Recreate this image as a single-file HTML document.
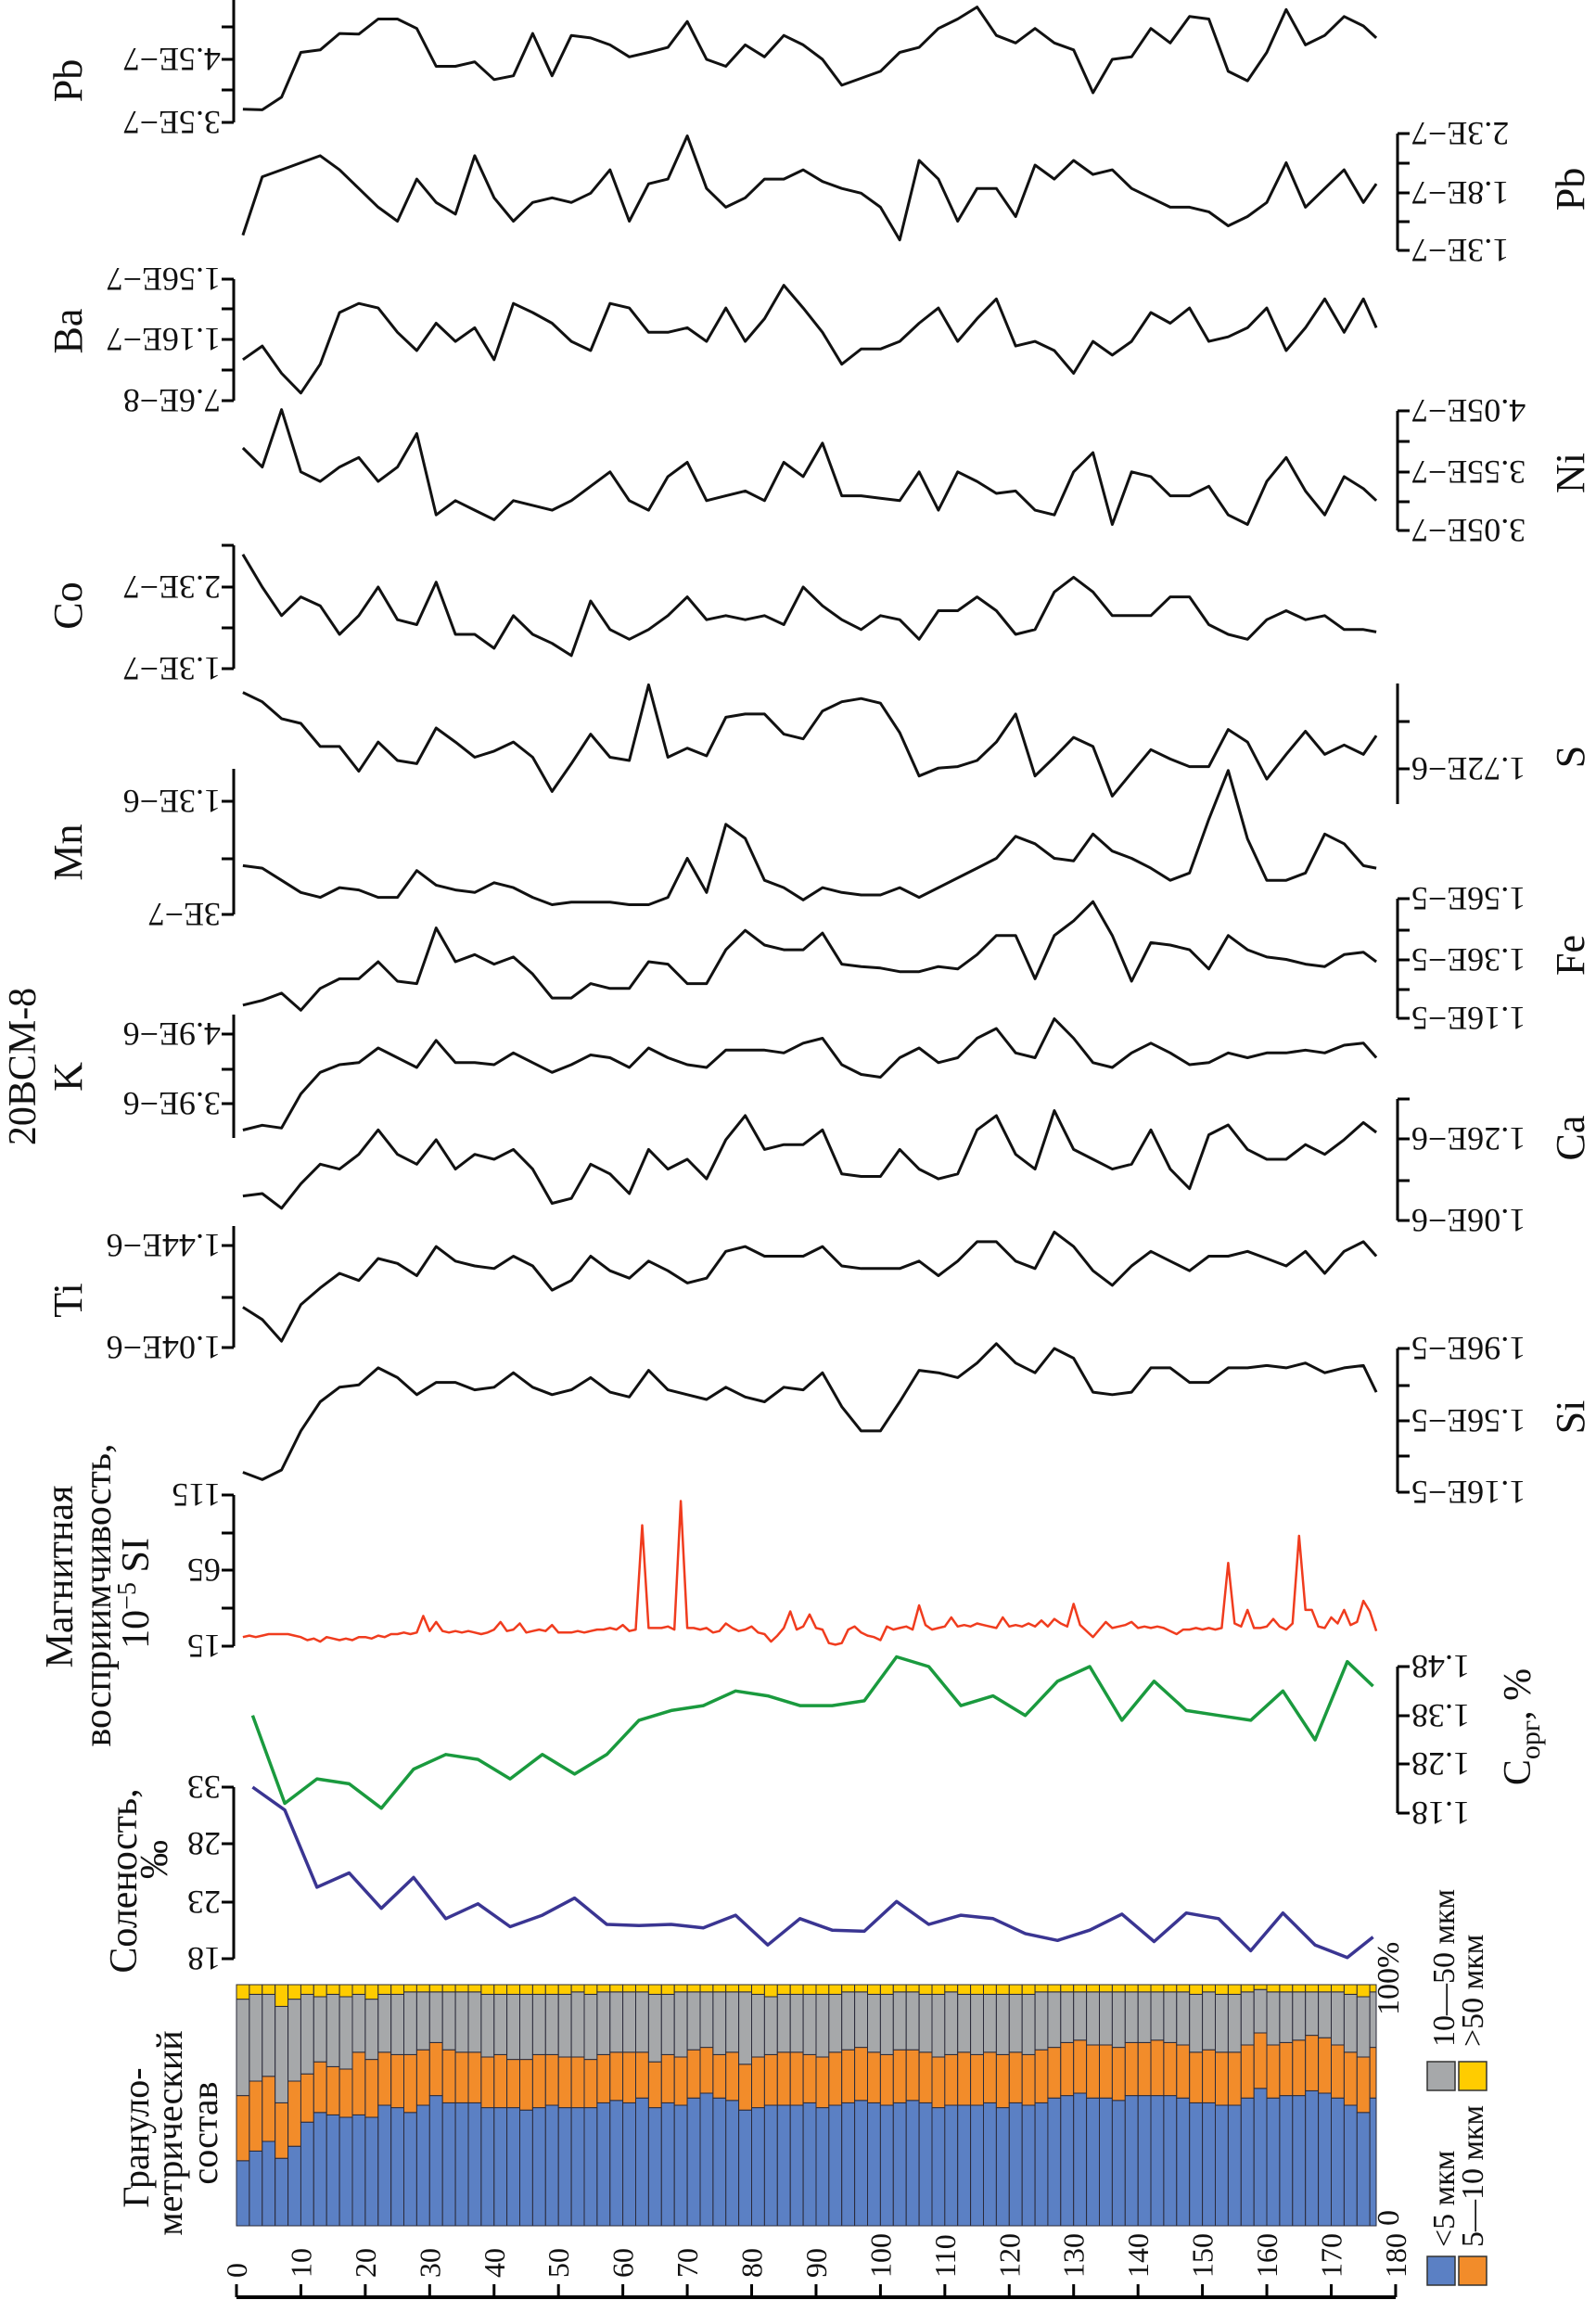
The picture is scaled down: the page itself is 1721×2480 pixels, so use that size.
<!DOCTYPE html>
<html><head><meta charset="utf-8">
<style>
html,body{margin:0;padding:0;background:#fff;}
svg{display:block;font-family:"Liberation Serif","DejaVu Serif",serif;}
</style></head>
<body>
<svg id="chart" xmlns="http://www.w3.org/2000/svg" width="1721" height="2480" viewBox="0 0 1721 2480">
<rect x="0" y="0" width="1721" height="2480" fill="#fff"/>
</svg>
<script>
// ---------- data ----------
const depths = [1,4,7,10,13,16,19,22,25,28,31,34,37,40,43,46,49,52,55,58,61,64,67,70,73,76,79,82,85,88,91,94,97,100,103,106,109,112,115,118,121,124,127,130,133,136,139,142,145,148,151,154,157,160,163,166,169,172,175,177];
const pbUpper = [3.71,3.70,3.90,4.61,4.65,4.91,4.90,5.14,5.14,4.99,4.39,4.39,4.46,4.18,4.24,4.91,4.24,4.88,4.84,4.73,4.54,4.61,4.69,5.10,4.50,4.39,4.73,4.54,4.88,4.73,4.50,4.09,4.20,4.31,4.61,4.69,4.99,5.14,5.33,4.88,4.76,4.99,4.76,4.65,3.97,4.50,4.54,4.99,4.76,5.18,5.14,4.31,4.16,4.61,5.29,4.73,4.88,5.18,5.03,4.84];
const pbLower = [1.43,1.93,1.99,2.05,2.11,1.99,1.83,1.67,1.55,1.91,1.71,1.61,2.11,1.75,1.55,1.71,1.75,1.71,1.79,1.99,1.55,1.87,1.91,2.28,1.83,1.67,1.75,1.91,1.91,1.99,1.89,1.83,1.79,1.67,1.39,2.07,1.91,1.55,1.83,1.83,1.59,2.03,1.91,2.07,1.95,1.99,1.83,1.75,1.67,1.67,1.63,1.51,1.59,1.71,2.05,1.67,1.83,1.99,1.71,1.87];
const ba = [1.03,1.12,0.94,0.81,1.00,1.34,1.40,1.37,1.21,1.09,1.27,1.15,1.24,1.03,1.40,1.34,1.27,1.15,1.09,1.40,1.37,1.21,1.21,1.24,1.15,1.37,1.15,1.30,1.52,1.37,1.21,1.00,1.10,1.10,1.15,1.27,1.37,1.15,1.30,1.43,1.12,1.15,1.09,0.94,1.15,1.06,1.15,1.34,1.27,1.37,1.15,1.18,1.24,1.37,1.09,1.24,1.43,1.21,1.43,1.24];
const ni = [3.74,3.58,4.06,3.54,3.46,3.58,3.66,3.46,3.58,3.86,3.18,3.30,3.22,3.14,3.30,3.26,3.22,3.30,3.42,3.54,3.30,3.22,3.50,3.62,3.30,3.34,3.38,3.30,3.62,3.50,3.78,3.34,3.34,3.32,3.30,3.54,3.22,3.54,3.46,3.36,3.38,3.22,3.18,3.54,3.70,3.10,3.54,3.50,3.34,3.34,3.42,3.18,3.10,3.46,3.66,3.38,3.18,3.50,3.40,3.30];
const co = [2.70,2.30,1.95,2.18,2.07,1.72,1.95,2.30,1.90,1.84,2.36,1.72,1.72,1.55,1.95,1.72,1.61,1.46,2.13,1.78,1.66,1.78,1.95,2.18,1.90,1.95,1.90,1.95,1.84,2.30,2.07,1.90,1.78,1.95,1.90,1.66,2.01,2.01,2.18,2.01,1.72,1.78,2.24,2.42,2.24,1.95,1.95,1.95,2.18,2.18,1.84,1.72,1.66,1.90,2.01,1.90,1.95,1.78,1.78,1.75];
const sul = [2.031,1.993,1.924,1.905,1.811,1.811,1.710,1.829,1.754,1.741,1.886,1.829,1.767,1.792,1.829,1.767,1.628,1.741,1.861,1.767,1.754,2.062,1.767,1.804,1.773,1.930,1.943,1.943,1.861,1.842,1.955,1.993,2.006,1.987,1.867,1.691,1.723,1.729,1.754,1.829,1.943,1.691,1.767,1.848,1.811,1.609,1.704,1.798,1.760,1.729,1.729,1.880,1.829,1.678,1.779,1.873,1.779,1.817,1.779,1.855];
const mn = [7.31,7.09,6.02,4.94,4.51,5.37,5.16,4.51,4.51,6.88,5.59,5.16,4.94,5.80,5.37,4.51,3.86,4.08,4.08,4.08,3.86,3.86,4.51,7.96,4.94,10.97,9.72,6.02,5.37,4.29,5.37,4.94,4.72,4.72,5.37,4.51,5.37,6.23,7.09,7.96,9.90,9.25,7.96,7.74,10.11,8.60,7.96,7.09,6.02,6.66,11.41,15.72,9.68,6.02,6.02,6.66,10.11,9.25,7.31,7.09];
const fe = [1.204,1.220,1.244,1.187,1.260,1.292,1.292,1.349,1.284,1.276,1.462,1.349,1.373,1.341,1.365,1.308,1.228,1.228,1.276,1.260,1.260,1.349,1.341,1.276,1.276,1.389,1.454,1.405,1.389,1.389,1.445,1.341,1.333,1.328,1.316,1.316,1.333,1.325,1.373,1.437,1.437,1.292,1.437,1.486,1.550,1.437,1.284,1.413,1.405,1.389,1.325,1.437,1.389,1.365,1.357,1.341,1.333,1.373,1.381,1.349];
const kal = [3.52,3.59,3.55,4.04,4.35,4.46,4.49,4.70,4.56,4.42,4.81,4.49,4.49,4.46,4.63,4.49,4.35,4.46,4.60,4.56,4.42,4.70,4.56,4.46,4.42,4.67,4.67,4.67,4.63,4.77,4.84,4.46,4.32,4.28,4.56,4.70,4.49,4.56,4.84,4.98,4.63,4.56,5.12,4.84,4.49,4.42,4.63,4.77,4.63,4.46,4.49,4.63,4.56,4.63,4.63,4.67,4.63,4.74,4.77,4.56];
const ca = [1.120,1.126,1.090,1.150,1.198,1.186,1.222,1.282,1.222,1.198,1.258,1.186,1.222,1.210,1.234,1.186,1.102,1.114,1.198,1.174,1.126,1.234,1.186,1.210,1.162,1.258,1.317,1.234,1.246,1.246,1.282,1.174,1.168,1.168,1.234,1.186,1.162,1.174,1.282,1.317,1.222,1.186,1.329,1.234,1.210,1.186,1.198,1.282,1.186,1.138,1.270,1.294,1.234,1.210,1.210,1.246,1.222,1.258,1.300,1.276];
const ti = [1.198,1.150,1.065,1.208,1.274,1.331,1.303,1.389,1.370,1.322,1.436,1.379,1.360,1.350,1.398,1.360,1.265,1.303,1.398,1.341,1.312,1.379,1.341,1.293,1.312,1.417,1.436,1.398,1.398,1.398,1.436,1.360,1.350,1.350,1.350,1.379,1.322,1.379,1.455,1.455,1.379,1.350,1.493,1.436,1.341,1.284,1.360,1.417,1.379,1.341,1.398,1.398,1.417,1.389,1.360,1.417,1.331,1.417,1.455,1.398];
const si = [1.271,1.230,1.284,1.501,1.663,1.744,1.757,1.852,1.798,1.703,1.771,1.771,1.730,1.744,1.825,1.744,1.703,1.730,1.798,1.717,1.690,1.838,1.730,1.703,1.676,1.744,1.690,1.663,1.744,1.730,1.825,1.636,1.501,1.501,1.663,1.838,1.825,1.798,1.879,1.987,1.879,1.825,1.960,1.906,1.717,1.703,1.717,1.852,1.852,1.771,1.771,1.852,1.852,1.865,1.852,1.879,1.825,1.852,1.865,1.717];
const magDepths = [1,2,3,4,5,6,7,8,9,10,11,12,13,14,15,16,17,18,19,20,21,22,23,24,25,26,27,28,29,30,31,32,33,34,35,36,37,38,39,40,41,42,43,44,45,46,47,48,49,50,51,52,53,54,55,56,57,58,59,60,61,62,63,64,65,66,67,68,69,70,71,72,73,74,75,76,77,78,79,80,81,82,83,84,85,86,87,88,89,90,91,92,93,94,95,96,97,98,99,100,101,102,103,104,105,106,107,108,109,110,111,112,113,114,115,116,117,118,119,120,121,122,123,124,125,126,127,128,129,130,131,132,133,134,135,136,137,138,139,140,141,142,143,144,145,146,147,148,149,150,151,152,153,154,155,156,157,158,159,160,161,162,163,164,165,166,167,168,169,170,171,172,173,174,175,176,177];
const mag = [21,22,21,22,23,23,23,23,22,21, 19,20,18,21,20,19,20,19,21,21, 20,22,21,23,23,24,23,24,35,25, 31,25,24,25,24,25,24,23,24,26, 31,25,26,30,24,25,26,25,29,24, 24,24,25,24,25,26,26,27,26,29, 25,26,95,27,27,27,28,26,111,27, 27,26,27,24,25,30,27,25,26,28, 24,23,18,22,27,38,26,28,36,27, 26,17,16,17,26,28,24,22,21,19, 28,26,27,28,26,42,29,26,27,28, 34,28,29,28,30,29,28,27,34,28, 29,28,30,28,32,28,33,30,28,43, 29,25,21,26,31,27,28,29,31,27, 28,27,28,27,25,23,26,26,27,26, 27,26,27,70,30,28,39,27,27,28, 33,28,26,30,88,39,39,28,27,34, 30,39,29,31,45,38,25];
const sampleDepths = [2.5,7.5,12.5,17.5,22.5,27.5,32.5,37.5,42.5,47.5,52.5,57.5,62.5,67.5,72.5,77.5,82.5,87.5,92.5,97.5,102.5,107.5,112.5,117.5,122.5,127.5,132.5,137.5,142.5,147.5,152.5,157.5,162.5,167.5,172.5,176.5];
const salinity = [33,31,24.25,25.5,22.4,25.1,21.5,22.8,20.8,21.8,23.3,21.0,20.9,21.0,20.7,21.8,19.2,21.5,20.5,20.4,23.0,21.0,21.8,21.5,20.2,19.6,20.5,21.9,19.5,22.0,21.5,18.7,22.0,19.2,18.1,19.9];
const corg = [1.38,1.20,1.25,1.24,1.19,1.27,1.30,1.29,1.25,1.30,1.26,1.30,1.37,1.39,1.40,1.43,1.42,1.40,1.40,1.41,1.50,1.48,1.40,1.42,1.38,1.45,1.48,1.37,1.45,1.39,1.38,1.37,1.43,1.33,1.49,1.44];
const granDepths = [0,2,4,6,8,10,12,14,16,18,20,22,24,26,28,30,32,34,36,38,40,42,44,46,48,50,52,54,56,58,60,62,64,66,68,70,72,74,76,78,80,82,84,86,88,90,92,94,96,98,100,102,104,106,108,110,112,114,116,118,120,122,124,126,128,130,132,134,136,138,140,142,144,146,148,150,152,154,156,158,160,162,164,166,168,170,172,174,176];
const fineClay = [27,31,35,28,33,43,47,46,45,46,45,50,49,47,50,54,51,51,51,49,49,49,48,49,50,49,49,49,51,52,51,53,49,51,50,53,55,53,52,48,49,50,50,50,51,49,50,51,52,51,50,51,52,51,49,50,50,50,51,49,51,50,51,53,54,55,53,53,52,54,54,54,54,53,51,51,50,50,53,57,53,54,54,56,55,53,50,47,53];
const siltFine = [27,29,27,23,27,20,21,20,20,26,24,22,22,24,23,22,22,21,21,21,22,20,21,22,21,21,21,20,20,20,21,19,19,20,20,20,19,18,20,19,21,21,22,22,20,21,22,22,22,21,21,22,21,21,21,21,22,21,21,22,21,21,22,21,22,22,22,22,22,22,22,23,22,22,21,22,22,22,22,23,22,22,23,23,23,22,22,23,21];
const siltCoarse = [40,36,34,40,34,33,27,30,30,24,25,24,25,26,24,21,24,25,25,26,25,27,27,25,25,26,27,27,26,25,25,25,28,25,27,24,23,26,25,30,26,24,24,24,25,26,24,24,23,24,25,24,24,24,26,26,24,25,24,25,24,25,24,23,21,20,22,22,23,21,21,20,21,22,24,24,24,24,22,18,22,21,20,18,19,22,24,25,23];
const depthTicks = [0,10,20,30,40,50,60,70,80,90,100,110,120,130,140,150,160,170,180];

// ---------- helpers ----------
const svg = document.getElementById('chart');
const NS = 'http://www.w3.org/2000/svg';
function mk(tag, attrs){
  const e = document.createElementNS(NS, tag);
  for (const k in attrs) e.setAttribute(k, attrs[k]);
  svg.appendChild(e);
  return e;
}
const X = d => 255 + d * 6.944;
function lin(v0, y0, v1, y1){ return v => y0 + (v - v0) * (y1 - y0) / (v1 - v0); }

const sPbU = lin(3.5,132,4.5,64), sPbL = lin(1.3,270,2.3,144), sBa = lin(0.76,432,1.56,301),
      sNi = lin(3.05,572,4.05,443), sCo = lin(1.3,721,2.3,633), sS = lin(1.72,829,1.92,776),
      sMn = lin(3,986,13,864), sFe = lin(1.16,1098,1.56,969), sK = lin(3.9,1190,4.9,1115),
      sCa = lin(1.06,1316,1.26,1228), sTi = lin(1.04,1453,1.44,1343), sSi = lin(1.16,1609,1.96,1454),
      sMag = lin(15,1775,115,1612), sCorg = lin(1.18,1955,1.48,1797), sSal = lin(18,2112,33,1927),
      sGran = p => 2400 - p * 2.6;

function series(name, ds, vals, sc, color, w){
  const pts = ds.map((d,i) => X(d).toFixed(1) + ',' + sc(vals[i]).toFixed(1)).join(' ');
  const el = mk('polyline', {points: pts, fill:'none', stroke: color, 'stroke-width': w, 'stroke-linejoin':'round'});
  
  
}
function axis(name, side, yTop, yBot, ticks){
  const x = side === 'left' ? 252 : 1507;
  const ln = mk('line', {x1:x, y1:yTop, x2:x, y2:yBot, stroke:'#000', 'stroke-width':3});
  
  
  ticks.forEach(t => {
    const tx = side === 'left' ? x - 13 : x + 13;
    const tk = mk('line', {x1:x, y1:t[0], x2:tx, y2:t[0], stroke:'#000', 'stroke-width':3});
    
    
    if (t[1]) {
      const lx = side === 'left' ? 238 : 1522;
      const tl = mk('text', {x:lx, y:t[0], 'font-size':36, 'text-anchor': side === 'left' ? 'start' : 'end', 'dominant-baseline':'central', transform:'rotate(180 ' + lx + ' ' + t[0] + ')', fill:'#111'});
      tl.textContent = t[1];
      
      
    }
  });
}
function vtext(name, str, x, y, size, anchor){
  const t = mk('text', {x:x, y:y, 'font-size':size, 'text-anchor': anchor || 'middle', transform:'rotate(-90 ' + x + ' ' + y + ')', fill:'#111'});
  t.textContent = str;
  
  
  return t;
}

// ---------- axes ----------
axis('pb-upper','left',0,132,[[29],[64,'4.5E\u22127'],[97],[132,'3.5E\u22127']]);
axis('pb-lower','right',144,270,[[144,'2.3E\u22127'],[176],[208,'1.8E\u22127'],[239],[270,'1.3E\u22127']]);
axis('ba','left',301,432,[[301,'1.56E\u22127'],[333],[366,'1.16E\u22127'],[399],[432,'7.6E\u22128']]);
axis('ni','right',443,572,[[443,'4.05E\u22127'],[476],[509,'3.55E\u22127'],[541],[572,'3.05E\u22127']]);
axis('co','left',588,721,[[588],[633,'2.3E\u22127'],[677],[721,'1.3E\u22127']]);
axis('s','right',737,867,[[778],[829,'1.72E\u22126']]);
axis('mn','left',829,986,[[864,'1.3E\u22126'],[926],[986,'3E\u22127']]);
axis('fe','right',969,1098,[[969,'1.56E\u22125'],[1003],[1035,'1.36E\u22125'],[1067],[1098,'1.16E\u22125']]);
axis('k','left',1094,1227,[[1115,'4.9E\u22126'],[1153],[1190,'3.9E\u22126']]);
axis('ca','right',1185,1316,[[1185],[1228,'1.26E\u22126'],[1273],[1316,'1.06E\u22126']]);
axis('ti','left',1322,1453,[[1343,'1.44E\u22126'],[1399],[1453,'1.04E\u22126']]);
axis('si','right',1454,1609,[[1454,'1.96E\u22125'],[1494],[1532,'1.56E\u22125'],[1570],[1609,'1.16E\u22125']]);
axis('magnetic','left',1612,1775,[[1612,'115'],[1653],[1693,'65'],[1734],[1775,'15']]);
axis('corg','right',1797,1955,[[1797,'1.48'],[1850,'1.38'],[1902,'1.28'],[1955,'1.18']]);
axis('salinity','left',1927,2112,[[1927,'33'],[1988,'28'],[2051,'23'],[2112,'18']]);

// ---------- granulometric bars ----------
const granColors = ['#5b80c4','#f28c2a','#a6a8aa','#ffcc00'];
const granNames = ['lt5','5-10','10-50','gt50'];
granDepths.forEach((d,i) => {
  const parts = [fineClay[i], siltFine[i], siltCoarse[i], 100 - fineClay[i] - siltFine[i] - siltCoarse[i]];
  let acc = 0;
  const x0 = X(d), x1 = X(Math.min(d + 2, 177));
  parts.forEach((p,j) => {
    const yTop = sGran(acc + p), yBot = sGran(acc);
    const r = mk('rect', {x:x0.toFixed(1), y:yTop.toFixed(1), width:(x1-x0).toFixed(1), height:(yBot-yTop).toFixed(1), fill:granColors[j], stroke:'#2a2a3a', 'stroke-width':1});
    
    
    acc += p;
  });
});

// ---------- series ----------
series('pb-upper', depths, pbUpper, sPbU, '#111', 3);
series('pb-lower', depths, pbLower, sPbL, '#111', 3);
series('ba', depths, ba, sBa, '#111', 3);
series('ni', depths, ni, sNi, '#111', 3);
series('co', depths, co, sCo, '#111', 3);
series('s', depths, sul, sS, '#111', 3);
series('mn', depths, mn, sMn, '#111', 3);
series('fe', depths, fe, sFe, '#111', 3);
series('k', depths, kal, sK, '#111', 3);
series('ca', depths, ca, sCa, '#111', 3);
series('ti', depths, ti, sTi, '#111', 3);
series('si', depths, si, sSi, '#111', 3);
series('magnetic', magDepths, mag, sMag, '#f03c1e', 2.5);
series('corg', sampleDepths, corg, sCorg, '#1a9a3e', 3.5);
series('salinity', sampleDepths, salinity, sSal, '#3a3592', 3.5);

// ---------- depth axis ----------
const da = mk('line', {x1:255, y1:2477, x2:1505, y2:2477, stroke:'#000', 'stroke-width':4});


depthTicks.forEach(d => {
  const t = mk('line', {x1:X(d), y1:2463, x2:X(d), y2:2477, stroke:'#000', 'stroke-width':3});
  
  
  vtext('depth-tick-label', String(d), X(d) + 11, 2456, 32, 'start');
});

// ---------- titles ----------
vtext('pb-upper-title','Pb',88,87,44);
vtext('ba-title','Ba',88,357,44);
vtext('co-title','Co',88,653,44);
vtext('mn-title','Mn',88,919,44);
vtext('k-title','K',88,1161,44);
vtext('ti-title','Ti',88,1402,44);
vtext('core-title','20BCM-8',38,1150,42);
vtext('pb-lower-title','Pb',1708,204,44);
vtext('ni-title','Ni',1708,510,44);
vtext('s-title','S',1708,816,44);
vtext('fe-title','Fe',1708,1030,44);
vtext('ca-title','Ca',1708,1227,44);
vtext('si-title','Si',1708,1528,44);
vtext('magnetic-title-1','Магнитная',78,1700,42);
vtext('magnetic-title-2','восприимчивость,',119,1720,42);
const mt = vtext('magnetic-title-3','',160,1718,42);
mt.innerHTML = '10<tspan dy="-14" font-size="28">\u22125</tspan><tspan dy="14"> SI</tspan>';
vtext('salinity-title-1','Соленость,',147,2028,42);
vtext('salinity-title-2','‰',180,2005,42);
const ct = vtext('corg-title','',1650,1862,42);
ct.innerHTML = 'C<tspan dy="10" font-size="30">орг</tspan><tspan dy="-10">, %</tspan>';
vtext('gran-title-1','Грануло-',160,2305,40);
vtext('gran-title-2','метрический',196,2300,40);
vtext('gran-title-3','состав',234,2300,40);
vtext('gran-zero-label','0',1508,2400,34,'start');
vtext('gran-100-label','100%',1508,2173,34,'start');

// ---------- legend ----------
const leg = [[1539,2433,'#5b80c4','legend-lt5'],[1573,2433,'#f28c2a','legend-5-10'],[1539,2223,'#a6a8aa','legend-10-50'],[1573,2223,'#ffcc00','legend-gt50']];
leg.forEach(l => {
  const r = mk('rect', {x:l[0], y:l[1], width:30, height:31, fill:l[2], stroke:'#333', 'stroke-width':1.5});
  
  
});
vtext('legend-lt5-label','<5 мкм',1568,2423,34,'start');
vtext('legend-5-10-label','5—10 мкм',1599,2423,34,'start');
vtext('legend-10-50-label','10—50 мкм',1568,2207,34,'start');
vtext('legend-gt50-label','>50 мкм',1599,2207,34,'start');
</script>
</body></html>
